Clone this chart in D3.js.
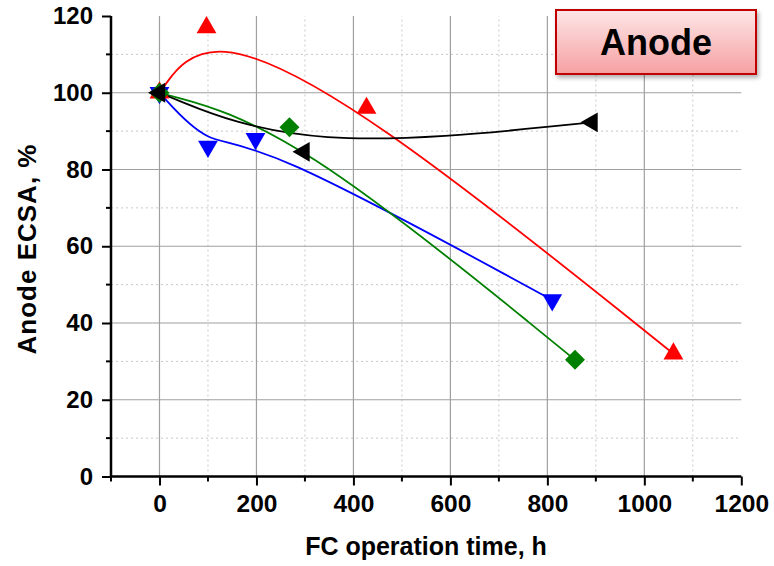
<!DOCTYPE html>
<html><head><meta charset="utf-8">
<script src="https://cdn.jsdelivr.net/npm/d3@7"></script>
<style>body{margin:0;background:#fff}svg{display:block}text{font-family:"Liberation Sans",Arial,sans-serif;font-weight:bold}</style>
</head><body><svg id="c" width="774" height="566"></svg>
<script>
// Data (FC operation time, h ; Anode ECSA, %)
const redX = [0, 97, 427, 1060];
const redY = [100, 117, 96, 32];
const blueX = [0, 100, 198, 810];
const blueY = [100, 86, 88, 46];
const greenX = [0, 268, 857];
const greenY = [100, 91, 30.4];
const blackX = [0, 298, 892];
const blackY = [100, 84.6, 92.3];
const xTicks = [0, 200, 400, 600, 800, 1000, 1200];
const yTicks = [0, 20, 40, 60, 80, 100, 120];
const xMinor = [-100, 100, 300, 500, 700, 900, 1100];
const yMinor = [10, 30, 50, 70, 90, 110];
const xTitle = "FC operation time, h";
const yTitle = "Anode ECSA, %";
const boxLabel = "Anode";

const svg = d3.select("#c");
const x = d3.scaleLinear().domain([-100, 1200]).range([111, 741.3]);
const y = d3.scaleLinear().domain([0, 120]).range([476.5, 16]);

// defs
const defs = svg.append("defs");
const grad = defs.append("linearGradient").attr("id","bg").attr("x1",0).attr("y1",0).attr("x2",0).attr("y2",1);
grad.append("stop").attr("offset","0%").attr("stop-color","#fde6e6");
grad.append("stop").attr("offset","100%").attr("stop-color","#f6a0a2");
const flt = defs.append("filter").attr("id","sh").attr("x","-10%").attr("y","-20%").attr("width","130%").attr("height","160%");
flt.append("feDropShadow").attr("dx",2).attr("dy",3).attr("stdDeviation",2).attr("flood-color","#000").attr("flood-opacity",0.3);

// grid
const g = svg.append("g");
g.selectAll(".vmin").data(xMinor.filter(d=>d>-100)).join("line")
  .attr("x1",d=>x(d)).attr("x2",d=>x(d)).attr("y1",y(0)).attr("y2",y(120))
  .attr("stroke","#c8c8c8").attr("stroke-width",1).attr("stroke-dasharray","2,3");
g.selectAll(".hmin").data(yMinor).join("line")
  .attr("x1",x(-100)).attr("x2",x(1200)).attr("y1",d=>y(d)).attr("y2",d=>y(d))
  .attr("stroke","#c8c8c8").attr("stroke-width",1).attr("stroke-dasharray","2,3");
g.selectAll(".vmaj").data(xTicks.filter(d=>d<1200)).join("line")
  .attr("x1",d=>x(d)).attr("x2",d=>x(d)).attr("y1",y(0)).attr("y2",y(120))
  .attr("stroke","#a0a0a0").attr("stroke-width",1.2);
g.selectAll(".hmaj").data(yTicks.filter(d=>d>0 && d<120)).join("line")
  .attr("x1",x(-100)).attr("x2",x(1200)).attr("y1",d=>y(d)).attr("y2",d=>y(d))
  .attr("stroke","#a0a0a0").attr("stroke-width",1.2);

// axes
const xa = svg.append("g").attr("transform",`translate(0,${y(0)})`);
xa.call(d3.axisBottom(x).tickValues(xTicks).tickSize(9).tickPadding(9).tickFormat(d3.format("d")));
xa.selectAll(".tick text").attr("font-size",24.5).attr("fill","#000");
xa.append("g").selectAll("line").data(xMinor).join("line")
  .attr("x1",d=>x(d)).attr("x2",d=>x(d)).attr("y1",0).attr("y2",5).attr("stroke","#000").attr("stroke-width",2);
const ya = svg.append("g").attr("transform",`translate(${x(-100)},0)`);
ya.call(d3.axisLeft(y).tickValues(yTicks).tickSize(9).tickPadding(9).tickFormat(d3.format("d")));
ya.selectAll(".tick text").attr("font-size",24).attr("fill","#000");
ya.append("g").selectAll("line").data(yMinor).join("line")
  .attr("y1",d=>y(d)).attr("y2",d=>y(d)).attr("x1",0).attr("x2",-5).attr("stroke","#000").attr("stroke-width",2);
[xa, ya].forEach(a=>{
  a.select(".domain").attr("stroke","#000").attr("stroke-width",2.5);
  a.selectAll(".tick line").attr("stroke","#000").attr("stroke-width",2);
});
xa.select(".domain").attr("d",`M${x(-100)},0H${x(1200)}`);
ya.select(".domain").attr("d",`M0,${y(0)}V${y(120)}`);

// titles
svg.append("text").attr("x",426).attr("y",555).attr("text-anchor","middle").attr("font-size",25).text(xTitle);
svg.append("text").attr("transform","translate(36,249) rotate(-90)").attr("text-anchor","middle")
  .attr("font-size",26).attr("letter-spacing",1).text(yTitle);

// series
const series = [
  {xs: redX, ys: redY, color: "#ff0000", shape: "up"},
  {xs: blueX, ys: blueY, color: "#0000ff", shape: "down"},
  {xs: greenX, ys: greenY, color: "#008000", shape: "diamond"},
  {xs: blackX, ys: blackY, color: "#000000", shape: "left"},
];
const line = d3.line().x(d=>x(d[0])).y(d=>y(d[1])).curve(d3.curveBasis);
series.forEach(s=>{
  const pts = s.xs.map((v,i)=>[v, s.ys[i]]);
  svg.append("path").datum(pts).attr("d",line).attr("fill","none").attr("stroke",s.color).attr("stroke-width",1.8);
});
const sym = {
  up: [d3.symbolTriangle, 170, 0],
  down: [d3.symbolTriangle, 170, 180],
  left: [d3.symbolTriangle, 170, -90],
  diamond: [d3.symbolSquare, 200, 45],
};
series.forEach(s=>{
  const [type, size, rot] = sym[s.shape];
  svg.append("g").selectAll("path").data(s.xs.map((v,i)=>[v, s.ys[i]])).join("path")
    .attr("d", d3.symbol().type(type).size(size))
    .attr("transform", d=>`translate(${x(d[0])},${y(d[1])}) rotate(${rot})`)
    .attr("fill", s.color);
});

// annotation box
const bx = svg.append("g");
bx.append("rect").attr("x",556).attr("y",10).attr("width",200).attr("height",64)
  .attr("fill","url(#bg)").attr("stroke","#c00000").attr("stroke-width",2).attr("filter","url(#sh)");
bx.append("text").attr("x",656).attr("y",55).attr("text-anchor","middle").attr("font-size",36).text(boxLabel);
</script></body></html>
